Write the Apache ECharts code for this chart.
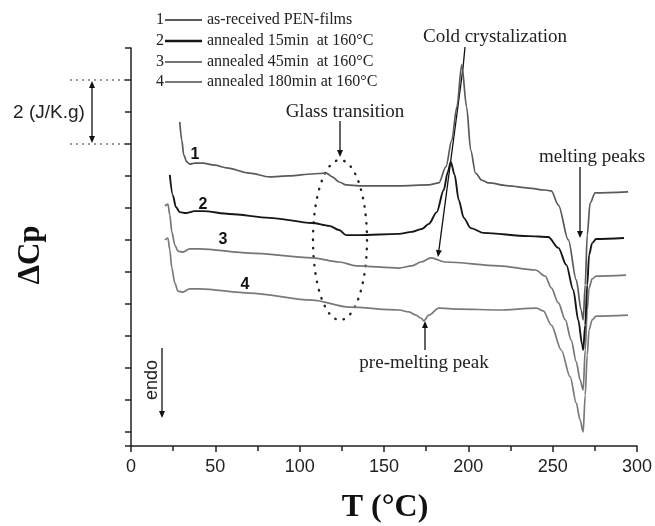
<!DOCTYPE html>
<html>
<head>
<meta charset="utf-8">
<script src="https://cdn.jsdelivr.net/npm/echarts@6/dist/echarts.min.js"></script>
<style>
  html, body { margin: 0; padding: 0; background: #fff; }
  #chart { width: 655px; height: 526px; }
</style>
</head>
<body>
<div id="chart"></div>
<script>
// DSC traces of PEN films, [T (°C), ΔCp offset (J/K.g)]
var curve1 = [[28.9,10.13],[30.1,9.56],[31.3,9.09],[33.1,8.88],[34.8,8.81],[37.8,8.84],[42.5,8.84],[49.6,8.78],[56.7,8.69],[70.3,8.53],[82.1,8.41],[93.9,8.44],[107.5,8.50],[115.8,8.53],[119.3,8.41],[123.4,8.25],[127.6,8.16],[135.2,8.13],[158.9,8.13],[176.6,8.16],[182.5,8.22],[186.7,8.72],[190.2,9.56],[193.2,10.59],[196.1,11.91],[199.0,10.59],[201.4,9.25],[204.3,8.53],[207.9,8.31],[212.0,8.22],[223.8,8.13],[235.6,8.06],[245.6,8.00],[249.2,7.97],[253.4,7.53],[259.3,6.44],[264.0,5.19],[266.9,4.25],[268.1,3.94],[269.3,5.03],[270.5,6.59],[272.2,7.59],[275.2,7.91],[294.7,7.94]];
var curve2 = [[23.0,8.47],[24.8,7.84],[26.6,7.47],[28.9,7.31],[32.5,7.28],[37.8,7.34],[42.5,7.34],[58.5,7.25],[82.1,7.13],[107.5,6.97],[117.5,6.88],[123.4,6.75],[127.6,6.59],[135.2,6.59],[158.9,6.63],[166.5,6.69],[172.4,6.78],[176.6,6.94],[181.3,7.31],[185.4,8.00],[187.8,8.56],[189.6,8.88],[191.9,8.47],[194.3,7.69],[197.3,7.13],[201.4,6.81],[209.1,6.66],[235.6,6.56],[247.4,6.53],[253.4,6.19],[258.1,5.66],[262.2,4.88],[265.2,3.94],[267.5,3.16],[268.1,3.00],[269.3,3.78],[270.5,5.03],[271.6,5.97],[273.4,6.34],[275.8,6.47],[292.3,6.50]];
var curve3 = [[20.1,7.50],[21.9,7.56],[23.0,7.22],[24.2,6.69],[26.0,6.28],[27.8,6.09],[30.7,6.06],[34.8,6.16],[40.7,6.16],[70.3,6.03],[107.5,5.88],[123.4,5.75],[133.5,5.63],[158.9,5.56],[166.5,5.63],[171.9,5.75],[177.8,5.88],[186.7,5.75],[217.9,5.63],[239.8,5.50],[245.6,5.31],[249.2,4.94],[253.4,4.47],[257.5,3.94],[261.0,3.31],[264.0,2.63],[266.3,2.06],[268.1,1.75],[269.3,3.00],[270.5,4.25],[271.6,4.94],[273.4,5.22],[275.8,5.31],[293.5,5.34]];
var curve4 = [[20.1,6.44],[21.9,6.50],[23.0,6.13],[24.2,5.56],[26.0,5.09],[27.8,4.84],[30.7,4.81],[34.8,4.91],[40.7,4.91],[70.3,4.78],[107.5,4.56],[129.4,4.34],[158.9,4.25],[164.8,4.19],[168.9,4.09],[171.9,4.00],[173.6,3.91],[176.6,4.09],[182.5,4.31],[194.3,4.28],[217.9,4.25],[240.4,4.31],[244.5,4.22],[249.2,3.78],[255.1,3.00],[260.4,2.16],[264.0,1.34],[266.3,0.81],[268.1,0.44],[269.3,1.59],[270.5,2.84],[271.6,3.63],[273.4,3.94],[275.8,4.06],[294.7,4.09]];

var legendNames = ['as-received PEN-films', 'annealed 15min  at 160°C', 'annealed 45min  at 160°C', 'annealed 180min at 160°C'];
var lineColors = ['#5a5a5a', '#161616', '#767676', '#7a7a7a'];

var serif = '"Liberation Serif", "Times New Roman", serif';
var sans = '"Liberation Sans", Arial, sans-serif';

function arrow(x1, y1, x2, y2, w) {
    var a = Math.atan2(y2 - y1, x2 - x1), L = 7, W = 3;
    var bx = x2 - L * Math.cos(a), by = y2 - L * Math.sin(a);
    var px = -Math.sin(a) * W, py = Math.cos(a) * W;
    return [
        { type: 'line', shape: { x1: x1, y1: y1, x2: bx, y2: by }, style: { stroke: '#111', lineWidth: w || 1.3 } },
        { type: 'polygon', shape: { points: [[x2, y2], [bx + px, by + py], [bx - px, by - py]] }, style: { fill: '#111' } }
    ];
}
function txt(x, y, s, font, fill, rot) {
    var o = { type: 'text', x: x, y: y, style: { text: s, font: font, fill: fill || '#222', textAlign: 'center', textVerticalAlign: 'middle' } };
    if (rot) o.rotation = rot;
    return o;
}

var graphics = [];
// legend
var legY = [20, 41, 62, 82];
legendNames.forEach(function (n, i) {
    graphics.push(txt(160, legY[i], String(i + 1), '16px ' + serif));
    graphics.push({ type: 'line', shape: { x1: 165, y1: legY[i], x2: 202, y2: legY[i] }, style: { stroke: lineColors[i], lineWidth: i === 1 ? 2.4 : 2 } });
    graphics.push({ type: 'text', x: 207, y: legY[i], style: { text: n, font: '16px ' + serif, fill: '#222', textVerticalAlign: 'middle' } });
});
// scale bar
graphics.push({ type: 'line', shape: { x1: 70, y1: 80, x2: 125, y2: 80 }, style: { stroke: '#333', lineWidth: 1.2, lineDash: [2, 4] } });
graphics.push({ type: 'line', shape: { x1: 70, y1: 144, x2: 125, y2: 144 }, style: { stroke: '#333', lineWidth: 1.2, lineDash: [2, 4] } });
graphics = graphics.concat(arrow(92, 112, 92, 81), arrow(92, 112, 92, 143));
graphics.push(txt(49, 113, '2 (J/K.g)', '19px ' + sans));
// glass transition
graphics.push(txt(345, 112, 'Glass transition', '19px ' + serif));
graphics = graphics.concat(arrow(340, 121, 340, 157));
graphics.push({ type: 'ellipse', shape: { cx: 340, cy: 240, rx: 27, ry: 80 }, style: { fill: null, stroke: '#222', lineWidth: 2.4, lineDash: [0.5, 8], lineCap: 'round' } });
// cold crystallization
graphics.push(txt(495, 37, 'Cold crystalization', '19px ' + serif));
graphics.push({ type: 'line', shape: { x1: 465, y1: 47, x2: 463, y2: 68 }, style: { stroke: '#111', lineWidth: 1.3 } });
graphics = graphics.concat(arrow(463, 68, 438, 257));
// melting
graphics.push(txt(592, 157, 'melting peaks', '19px ' + serif));
graphics = graphics.concat(arrow(580, 167, 580, 238));
// pre-melting
graphics.push(txt(424, 363, 'pre-melting peak', '19px ' + serif));
graphics = graphics.concat(arrow(425, 350, 425, 321));
// endo
graphics.push(txt(152, 380, 'endo', '18px ' + sans, '#222', Math.PI / 2));
graphics = graphics.concat(arrow(162, 348, 162, 418));
// curve numbers
[[195, 155, '1'], [203, 205, '2'], [223, 240, '3'], [245, 285, '4']].forEach(function (c) {
    graphics.push(txt(c[0], c[1], c[2], 'bold 16px ' + sans, '#111'));
});
// axis titles
graphics.push(txt(31, 255, 'ΔCp', 'bold 31px ' + serif, '#111', Math.PI / 2));
graphics.push(txt(385, 508, 'T (°C)', 'bold 32px ' + serif, '#111'));

var chart = echarts.init(document.getElementById('chart'), null, { renderer: 'canvas' });
var series = [curve1, curve2, curve3, curve4].map(function (d, i) {
    return {
        type: 'line', yAxisIndex: 1, data: d, showSymbol: false, smooth: 0.3, smoothMonotone: 'x',
        lineStyle: { color: lineColors[i], width: i === 1 ? 1.9 : 1.7 }, z: i === 1 ? 5 : 3
    };
});
chart.setOption({
    animation: false,
    backgroundColor: '#fff',
    grid: { left: 131, right: 16, top: 48, bottom: 80 },
    xAxis: {
        type: 'value', min: 0, max: 300, interval: 50, position: 'bottom',
        axisLine: { onZero: false, lineStyle: { color: '#222', width: 1.5 } },
        axisTick: { length: 6, lineStyle: { color: '#222', width: 1.5 } },
        minorTick: { show: true, splitNumber: 2, length: 5, lineStyle: { color: '#222', width: 1.5 } },
        axisLabel: { fontSize: 18, fontFamily: sans, color: '#222', margin: 12 },
        splitLine: { show: false }
    },
    yAxis: [{
        type: 'value', inverse: true, min: 0, max: 12.4375, interval: 1,
        axisLine: { show: true, onZero: false, lineStyle: { color: '#222', width: 1.5 } },
        axisTick: { show: true, length: 6, lineStyle: { color: '#222', width: 1.5 } },
        axisLabel: { show: false },
        splitLine: { show: false }
    }, {
        type: 'value', min: 0, max: 12.4375, show: false
    }],
    series: series,
    graphic: graphics
});
</script>
</body>
</html>
